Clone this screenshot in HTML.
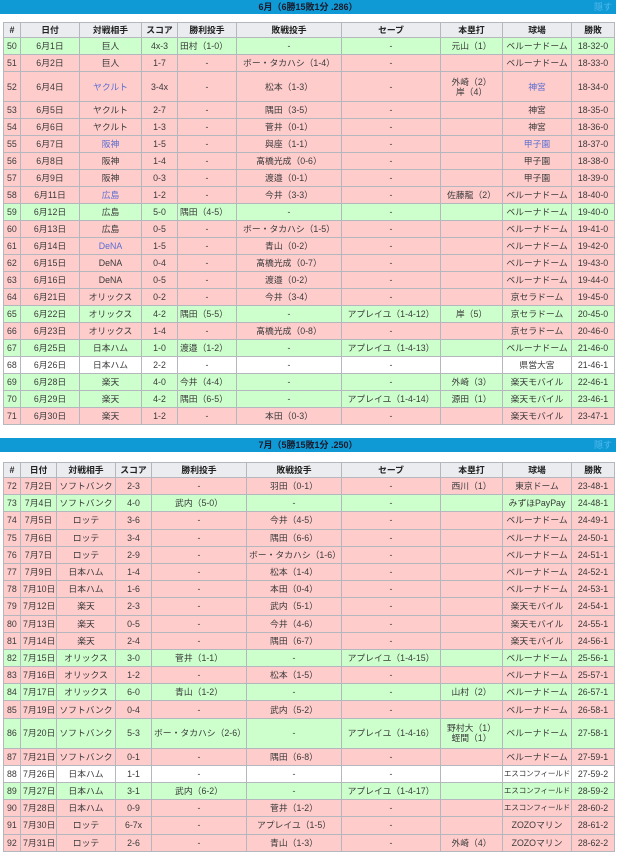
<!DOCTYPE html>
<html><head><meta charset="utf-8">
<style>
body{margin:0;width:620px;height:854px;overflow:hidden;background:#fff;font-family:"Liberation Sans","Noto Sans CJK JP",sans-serif;color:#333;}
.bar{position:absolute;left:0;width:616px;height:14px;background:#0f9ad6;color:#1a1a2a;font-size:9px;font-weight:bold;text-align:center;line-height:14px;}
.bar span{position:absolute;right:4px;top:0;color:#52b8ea;font-weight:normal;}
table{position:absolute;left:3px;width:611px;border-collapse:collapse;table-layout:fixed;font-size:8.8px;}
td,th{border:1px solid #b4b7bd;padding:0 2px;text-align:center;white-space:nowrap;overflow:hidden;line-height:10px;color:#3a3a3a;}
th{background:#eaecf0;height:14px;font-weight:bold;color:#222;}
tr.w td{background:#ccffcc;}
tr.l td{background:#ffcccc;}
tr.d td{background:#fff;}
#t1 td{height:16px;}
#t2 td{height:16.2px;}
tr.dbl td{height:29px!important;}
td.n{text-align:left;padding-left:3px;}
td.wl{text-align:left;}
td:nth-child(9){padding:0;}
td.s{font-size:7.6px;letter-spacing:-0.2px;}
a{color:#5a6ed0;text-decoration:none;}
</style></head><body>
<div class="bar" style="top:0">6月（6勝15敗1分 .286）<span>隠す</span></div>
<table id="t1" style="top:22px">
<colgroup><col style="width:17px"><col style="width:59px"><col style="width:62px"><col style="width:36px"><col style="width:59px"><col style="width:105px"><col style="width:99px"><col style="width:62px"><col style="width:69px"><col style="width:43px"></colgroup>
<tr><th>#</th><th>日付</th><th>対戦相手</th><th>スコア</th><th>勝利投手</th><th>敗戦投手</th><th>セーブ</th><th>本塁打</th><th>球場</th><th>勝敗</th></tr>
<tr class="w"><td class="n">50</td><td>6月1日</td><td>巨人</td><td>4x-3</td><td class="wl">田村（1-0）</td><td>-</td><td>-</td><td>元山（1）</td><td>ベルーナドーム</td><td>18-32-0</td></tr>
<tr class="l"><td class="n">51</td><td>6月2日</td><td>巨人</td><td>1-7</td><td>-</td><td>ボー・タカハシ（1-4）</td><td>-</td><td></td><td>ベルーナドーム</td><td>18-33-0</td></tr>
<tr class="l dbl"><td class="n">52</td><td>6月4日</td><td><a>ヤクルト</a></td><td>3-4x</td><td>-</td><td>松本（1-3）</td><td>-</td><td>外崎（2）<br>岸（4）</td><td><a>神宮</a></td><td>18-34-0</td></tr>
<tr class="l"><td class="n">53</td><td>6月5日</td><td>ヤクルト</td><td>2-7</td><td>-</td><td>隅田（3-5）</td><td>-</td><td></td><td>神宮</td><td>18-35-0</td></tr>
<tr class="l"><td class="n">54</td><td>6月6日</td><td>ヤクルト</td><td>1-3</td><td>-</td><td>菅井（0-1）</td><td>-</td><td></td><td>神宮</td><td>18-36-0</td></tr>
<tr class="l"><td class="n">55</td><td>6月7日</td><td><a>阪神</a></td><td>1-5</td><td>-</td><td>與座（1-1）</td><td>-</td><td></td><td><a>甲子園</a></td><td>18-37-0</td></tr>
<tr class="l"><td class="n">56</td><td>6月8日</td><td>阪神</td><td>1-4</td><td>-</td><td>髙橋光成（0-6）</td><td>-</td><td></td><td>甲子園</td><td>18-38-0</td></tr>
<tr class="l"><td class="n">57</td><td>6月9日</td><td>阪神</td><td>0-3</td><td>-</td><td>渡邉（0-1）</td><td>-</td><td></td><td>甲子園</td><td>18-39-0</td></tr>
<tr class="l"><td class="n">58</td><td>6月11日</td><td><a>広島</a></td><td>1-2</td><td>-</td><td>今井（3-3）</td><td>-</td><td>佐藤龍（2）</td><td>ベルーナドーム</td><td>18-40-0</td></tr>
<tr class="w"><td class="n">59</td><td>6月12日</td><td>広島</td><td>5-0</td><td class="wl">隅田（4-5）</td><td>-</td><td>-</td><td></td><td>ベルーナドーム</td><td>19-40-0</td></tr>
<tr class="l"><td class="n">60</td><td>6月13日</td><td>広島</td><td>0-5</td><td>-</td><td>ボー・タカハシ（1-5）</td><td>-</td><td></td><td>ベルーナドーム</td><td>19-41-0</td></tr>
<tr class="l"><td class="n">61</td><td>6月14日</td><td><a>DeNA</a></td><td>1-5</td><td>-</td><td>青山（0-2）</td><td>-</td><td></td><td>ベルーナドーム</td><td>19-42-0</td></tr>
<tr class="l"><td class="n">62</td><td>6月15日</td><td>DeNA</td><td>0-4</td><td>-</td><td>髙橋光成（0-7）</td><td>-</td><td></td><td>ベルーナドーム</td><td>19-43-0</td></tr>
<tr class="l"><td class="n">63</td><td>6月16日</td><td>DeNA</td><td>0-5</td><td>-</td><td>渡邉（0-2）</td><td>-</td><td></td><td>ベルーナドーム</td><td>19-44-0</td></tr>
<tr class="l"><td class="n">64</td><td>6月21日</td><td>オリックス</td><td>0-2</td><td>-</td><td>今井（3-4）</td><td>-</td><td></td><td>京セラドーム</td><td>19-45-0</td></tr>
<tr class="w"><td class="n">65</td><td>6月22日</td><td>オリックス</td><td>4-2</td><td class="wl">隅田（5-5）</td><td>-</td><td>アプレイユ（1-4-12）</td><td>岸（5）</td><td>京セラドーム</td><td>20-45-0</td></tr>
<tr class="l"><td class="n">66</td><td>6月23日</td><td>オリックス</td><td>1-4</td><td>-</td><td>髙橋光成（0-8）</td><td>-</td><td></td><td>京セラドーム</td><td>20-46-0</td></tr>
<tr class="w"><td class="n">67</td><td>6月25日</td><td>日本ハム</td><td>1-0</td><td class="wl">渡邉（1-2）</td><td>-</td><td>アプレイユ（1-4-13）</td><td></td><td>ベルーナドーム</td><td>21-46-0</td></tr>
<tr class="d"><td class="n">68</td><td>6月26日</td><td>日本ハム</td><td>2-2</td><td>-</td><td>-</td><td>-</td><td></td><td>県営大宮</td><td>21-46-1</td></tr>
<tr class="w"><td class="n">69</td><td>6月28日</td><td>楽天</td><td>4-0</td><td class="wl">今井（4-4）</td><td>-</td><td>-</td><td>外崎（3）</td><td>楽天モバイル</td><td>22-46-1</td></tr>
<tr class="w"><td class="n">70</td><td>6月29日</td><td>楽天</td><td>4-2</td><td class="wl">隅田（6-5）</td><td>-</td><td>アプレイユ（1-4-14）</td><td>源田（1）</td><td>楽天モバイル</td><td>23-46-1</td></tr>
<tr class="l"><td class="n">71</td><td>6月30日</td><td>楽天</td><td>1-2</td><td>-</td><td>本田（0-3）</td><td>-</td><td></td><td>楽天モバイル</td><td>23-47-1</td></tr>
</table>

<div class="bar" style="top:438px">7月（5勝15敗1分 .250）<span>隠す</span></div>
<table id="t2" style="top:462px">
<colgroup><col style="width:17px"><col style="width:36px"><col style="width:59px"><col style="width:36px"><col style="width:95px"><col style="width:95px"><col style="width:99px"><col style="width:62px"><col style="width:69px"><col style="width:43px"></colgroup>
<tr><th>#</th><th>日付</th><th>対戦相手</th><th>スコア</th><th>勝利投手</th><th>敗戦投手</th><th>セーブ</th><th>本塁打</th><th>球場</th><th>勝敗</th></tr>
<tr class="l"><td class="n">72</td><td>7月2日</td><td>ソフトバンク</td><td>2-3</td><td>-</td><td>羽田（0-1）</td><td>-</td><td>西川（1）</td><td>東京ドーム</td><td>23-48-1</td></tr>
<tr class="w"><td class="n">73</td><td>7月4日</td><td>ソフトバンク</td><td>4-0</td><td>武内（5-0）</td><td>-</td><td>-</td><td></td><td>みずほPayPay</td><td>24-48-1</td></tr>
<tr class="l"><td class="n">74</td><td>7月5日</td><td>ロッテ</td><td>3-6</td><td>-</td><td>今井（4-5）</td><td>-</td><td></td><td>ベルーナドーム</td><td>24-49-1</td></tr>
<tr class="l"><td class="n">75</td><td>7月6日</td><td>ロッテ</td><td>3-4</td><td>-</td><td>隅田（6-6）</td><td>-</td><td></td><td>ベルーナドーム</td><td>24-50-1</td></tr>
<tr class="l"><td class="n">76</td><td>7月7日</td><td>ロッテ</td><td>2-9</td><td>-</td><td>ボー・タカハシ（1-6）</td><td>-</td><td></td><td>ベルーナドーム</td><td>24-51-1</td></tr>
<tr class="l"><td class="n">77</td><td>7月9日</td><td>日本ハム</td><td>1-4</td><td>-</td><td>松本（1-4）</td><td>-</td><td></td><td>ベルーナドーム</td><td>24-52-1</td></tr>
<tr class="l"><td class="n">78</td><td>7月10日</td><td>日本ハム</td><td>1-6</td><td>-</td><td>本田（0-4）</td><td>-</td><td></td><td>ベルーナドーム</td><td>24-53-1</td></tr>
<tr class="l"><td class="n">79</td><td>7月12日</td><td>楽天</td><td>2-3</td><td>-</td><td>武内（5-1）</td><td>-</td><td></td><td>楽天モバイル</td><td>24-54-1</td></tr>
<tr class="l"><td class="n">80</td><td>7月13日</td><td>楽天</td><td>0-5</td><td>-</td><td>今井（4-6）</td><td>-</td><td></td><td>楽天モバイル</td><td>24-55-1</td></tr>
<tr class="l"><td class="n">81</td><td>7月14日</td><td>楽天</td><td>2-4</td><td>-</td><td>隅田（6-7）</td><td>-</td><td></td><td>楽天モバイル</td><td>24-56-1</td></tr>
<tr class="w"><td class="n">82</td><td>7月15日</td><td>オリックス</td><td>3-0</td><td>菅井（1-1）</td><td>-</td><td>アプレイユ（1-4-15）</td><td></td><td>ベルーナドーム</td><td>25-56-1</td></tr>
<tr class="l"><td class="n">83</td><td>7月16日</td><td>オリックス</td><td>1-2</td><td>-</td><td>松本（1-5）</td><td>-</td><td></td><td>ベルーナドーム</td><td>25-57-1</td></tr>
<tr class="w"><td class="n">84</td><td>7月17日</td><td>オリックス</td><td>6-0</td><td>青山（1-2）</td><td>-</td><td>-</td><td>山村（2）</td><td>ベルーナドーム</td><td>26-57-1</td></tr>
<tr class="l"><td class="n">85</td><td>7月19日</td><td>ソフトバンク</td><td>0-4</td><td>-</td><td>武内（5-2）</td><td>-</td><td></td><td>ベルーナドーム</td><td>26-58-1</td></tr>
<tr class="w dbl"><td class="n">86</td><td>7月20日</td><td>ソフトバンク</td><td>5-3</td><td>ボー・タカハシ（2-6）</td><td>-</td><td>アプレイユ（1-4-16）</td><td>野村大（1）<br>蛭間（1）</td><td>ベルーナドーム</td><td>27-58-1</td></tr>
<tr class="l"><td class="n">87</td><td>7月21日</td><td>ソフトバンク</td><td>0-1</td><td>-</td><td>隅田（6-8）</td><td>-</td><td></td><td>ベルーナドーム</td><td>27-59-1</td></tr>
<tr class="d"><td class="n">88</td><td>7月26日</td><td>日本ハム</td><td>1-1</td><td>-</td><td>-</td><td>-</td><td></td><td class="s">エスコンフィールド</td><td>27-59-2</td></tr>
<tr class="w"><td class="n">89</td><td>7月27日</td><td>日本ハム</td><td>3-1</td><td>武内（6-2）</td><td>-</td><td>アプレイユ（1-4-17）</td><td></td><td class="s">エスコンフィールド</td><td>28-59-2</td></tr>
<tr class="l"><td class="n">90</td><td>7月28日</td><td>日本ハム</td><td>0-9</td><td>-</td><td>菅井（1-2）</td><td>-</td><td></td><td class="s">エスコンフィールド</td><td>28-60-2</td></tr>
<tr class="l"><td class="n">91</td><td>7月30日</td><td>ロッテ</td><td>6-7x</td><td>-</td><td>アプレイユ（1-5）</td><td>-</td><td></td><td>ZOZOマリン</td><td>28-61-2</td></tr>
<tr class="l"><td class="n">92</td><td>7月31日</td><td>ロッテ</td><td>2-6</td><td>-</td><td>青山（1-3）</td><td>-</td><td>外崎（4）</td><td>ZOZOマリン</td><td>28-62-2</td></tr>
</table>
</body></html>
